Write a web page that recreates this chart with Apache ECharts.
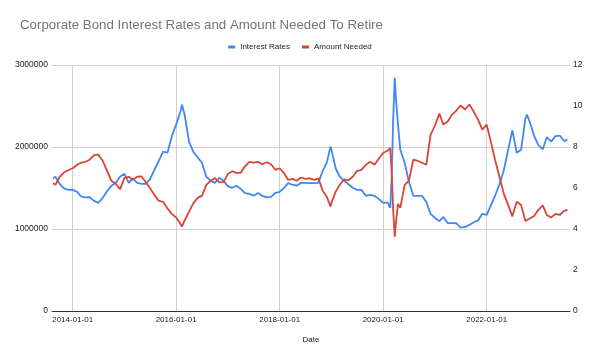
<!DOCTYPE html>
<html>
<head>
<meta charset="utf-8">
<script src="https://cdn.jsdelivr.net/npm/echarts@6/dist/echarts.min.js"></script>
<style>html,body{margin:0;padding:0;background:#fff}#c{width:600px;height:355px}</style>
</head>
<body>
<div id="c"></div>
<script>
const dates = [
  '2013-08-15','2013-09-01','2013-10-01','2013-11-01','2013-12-01',
  '2014-01-01','2014-02-01','2014-03-01','2014-04-01','2014-05-01','2014-06-01','2014-07-01','2014-08-01','2014-09-01','2014-10-01','2014-11-01','2014-12-01',
  '2015-01-01','2015-02-01','2015-03-01','2015-04-01','2015-05-01','2015-06-01','2015-07-01','2015-08-01','2015-09-01','2015-10-01','2015-11-01','2015-12-01',
  '2016-01-01','2016-02-01','2016-02-11','2016-03-01','2016-04-01','2016-05-01','2016-06-01','2016-07-01','2016-08-01','2016-09-01','2016-10-01','2016-11-01','2016-12-01',
  '2017-01-01','2017-02-01','2017-03-01','2017-04-01','2017-05-01','2017-06-01','2017-07-01','2017-08-01','2017-09-01','2017-10-01','2017-11-01','2017-12-01',
  '2018-01-01','2018-02-01','2018-03-01','2018-04-01','2018-05-01','2018-06-01','2018-07-01','2018-08-01','2018-09-01','2018-10-01','2018-11-01','2018-12-01','2018-12-26',
  '2019-01-01','2019-02-01','2019-03-01','2019-04-01','2019-05-01','2019-06-01','2019-07-01','2019-08-01','2019-09-01','2019-10-01','2019-11-01','2019-12-01',
  '2020-01-01','2020-02-01','2020-02-20','2020-03-01','2020-03-12','2020-03-23','2020-04-01','2020-04-15','2020-05-01','2020-06-01','2020-07-01','2020-08-01','2020-09-01','2020-10-01','2020-11-01','2020-12-01',
  '2021-01-01','2021-02-01','2021-03-01','2021-04-01','2021-05-01','2021-06-01','2021-07-01','2021-08-01','2021-09-01','2021-10-01','2021-11-01','2021-12-01',
  '2022-01-01','2022-02-01','2022-03-01','2022-04-01','2022-05-01','2022-06-01','2022-07-01','2022-08-01','2022-09-01','2022-10-01','2022-10-12','2022-11-01','2022-12-01',
  '2023-01-01','2023-02-01','2023-03-01','2023-04-01','2023-05-01','2023-06-01','2023-07-01','2023-07-25'
];

const interestRates = [
  6.48, 6.55, 6.20, 5.98, 5.91,
  5.91, 5.81, 5.59, 5.54, 5.55, 5.37, 5.27, 5.52, 5.84, 6.11, 6.25, 6.55,
  6.69, 6.25, 6.47, 6.25, 6.20, 6.20, 6.43, 6.89, 7.33, 7.77, 7.72, 8.50,
  9.09, 9.73, 10.07, 9.58, 8.26, 7.77, 7.50, 7.23, 6.55, 6.35, 6.25, 6.50, 6.35,
  6.08, 6.01, 6.11, 5.96, 5.75, 5.71, 5.62, 5.76, 5.62, 5.54, 5.57, 5.76,
  5.81, 6.01, 6.24, 6.16, 6.11, 6.25, 6.25, 6.24, 6.24, 6.25, 6.84, 7.28, 8.03,
  7.87, 6.94, 6.56, 6.35, 6.18, 6.01, 5.91, 5.91, 5.62, 5.67, 5.62, 5.47,
  5.27, 5.30, 5.03, 6.40, 9.34, 11.38, 10.32, 9.09, 7.87, 7.23, 6.30, 5.62, 5.62, 5.62, 5.32, 4.74,
  4.54, 4.39, 4.59, 4.29, 4.29, 4.28, 4.07, 4.10, 4.20, 4.33, 4.42, 4.74,
  4.69, 5.18, 5.62, 6.18, 6.84, 7.85, 8.82, 7.72, 7.87, 9.39, 9.58, 9.22, 8.56,
  8.09, 7.89, 8.48, 8.26, 8.53, 8.56, 8.29, 8.36
];

const amountNeeded = [
  1559000, 1539000, 1637000, 1692000, 1716000,
  1741000, 1783000, 1808000, 1820000, 1845000, 1900000, 1906000, 1832000, 1710000, 1588000, 1551000, 1484000,
  1624000, 1637000, 1600000, 1637000, 1643000, 1569000, 1496000, 1416000, 1343000, 1331000, 1251000, 1184000,
  1141000, 1061000, 1028000, 1104000, 1208000, 1312000, 1379000, 1404000, 1539000, 1588000, 1621000, 1569000, 1575000,
  1673000, 1704000, 1685000, 1685000, 1765000, 1820000, 1808000, 1820000, 1790000, 1814000, 1790000, 1722000,
  1741000, 1679000, 1600000, 1612000, 1588000, 1628000, 1612000, 1618000, 1600000, 1618000, 1465000, 1386000, 1273000,
  1318000, 1459000, 1539000, 1606000, 1594000, 1637000, 1710000, 1722000, 1783000, 1820000, 1783000, 1857000,
  1927000, 1955000, 1988000, 1722000, 1233000, 906000, 1086000, 1306000, 1257000, 1539000, 1588000, 1845000, 1832000, 1808000, 1783000, 2151000,
  2261000, 2408000, 2273000, 2310000, 2395000, 2444000, 2506000, 2457000, 2518000, 2432000, 2334000, 2212000,
  2273000, 2053000, 1845000, 1637000, 1435000, 1294000, 1153000, 1331000, 1294000, 1098000, 1086000, 1129000, 1159000,
  1233000, 1288000, 1171000, 1141000, 1184000, 1171000, 1220000, 1233000
];

const xTickLabels = ['2014-01-01', '2016-01-01', '2018-01-01', '2020-01-01', '2022-01-01'];
const leftTicks = [0, 1000000, 2000000, 3000000];
const rightTicks = [0, 2, 4, 6, 8, 10, 12];
const xRange = ['2013-08-08', '2023-08-12'];

const P = s => echarts.number.parseDate(s).getTime();
const FONT = '"Liberation Sans", Arial, sans-serif';
const tickVals = xTickLabels.map(P);

const chart = echarts.init(document.getElementById('c'), null, {renderer: 'canvas'});
chart.setOption({
  animation: false,
  textStyle: {fontFamily: FONT},
  title: {
    text: 'Corporate Bond Interest Rates and Amount Needed To Retire',
    left: 15, top: 14,
    textStyle: {fontSize: 13.3, fontWeight: 'normal', color: '#757575', fontFamily: FONT}
  },
  legend: {
    top: 38, left: 'center',
    icon: 'rect', itemWidth: 7, itemHeight: 3, itemGap: 12,
    textStyle: {fontSize: 8, color: '#222', fontFamily: FONT},
    data: ['Interest Rates', 'Amount Needed']
  },
  grid: {left: 52, right: 30, top: 65, bottom: 44},
  xAxis: {
    type: 'value',
    min: P(xRange[0]), max: P(xRange[1]),
    name: 'Date', nameLocation: 'middle', nameGap: 25,
    nameTextStyle: {fontSize: 8, color: '#222', fontFamily: FONT},
    axisLine: {show: true, onZero: false, lineStyle: {color: '#333', width: 1}},
    axisTick: {show: false, customValues: tickVals},
    axisLabel: {
      customValues: tickVals,
      fontSize: 8, color: '#222', margin: 5, fontFamily: FONT,
      formatter: v => xTickLabels[tickVals.indexOf(v)] || ''
    },
    splitLine: {show: true, lineStyle: {color: '#d0d0d0', width: 1}}
  },
  yAxis: [
    {
      type: 'value', min: leftTicks[0], max: leftTicks[leftTicks.length - 1], interval: leftTicks[1] - leftTicks[0],
      axisLine: {show: false}, axisTick: {show: false},
      axisLabel: {fontSize: 8.5, color: '#222', margin: 4, fontFamily: FONT, formatter: v => String(v)},
      splitLine: {show: true, lineStyle: {color: '#d0d0d0', width: 1}}
    },
    {
      type: 'value', min: rightTicks[0], max: rightTicks[rightTicks.length - 1], interval: rightTicks[1] - rightTicks[0],
      axisLine: {show: false}, axisTick: {show: false},
      axisLabel: {fontSize: 8.5, color: '#222', margin: 3, fontFamily: FONT},
      splitLine: {show: false}
    }
  ],
  series: [
    {
      name: 'Interest Rates', type: 'line', yAxisIndex: 1, showSymbol: false,
      color: '#4285f4', lineStyle: {width: 1.8, color: '#4285f4'},
      data: dates.map((d, i) => [P(d), interestRates[i]])
    },
    {
      name: 'Amount Needed', type: 'line', yAxisIndex: 0, showSymbol: false,
      color: '#db4437', lineStyle: {width: 1.8, color: '#db4437'},
      data: dates.map((d, i) => [P(d), amountNeeded[i]])
    }
  ]
});
</script>
</body>
</html>
